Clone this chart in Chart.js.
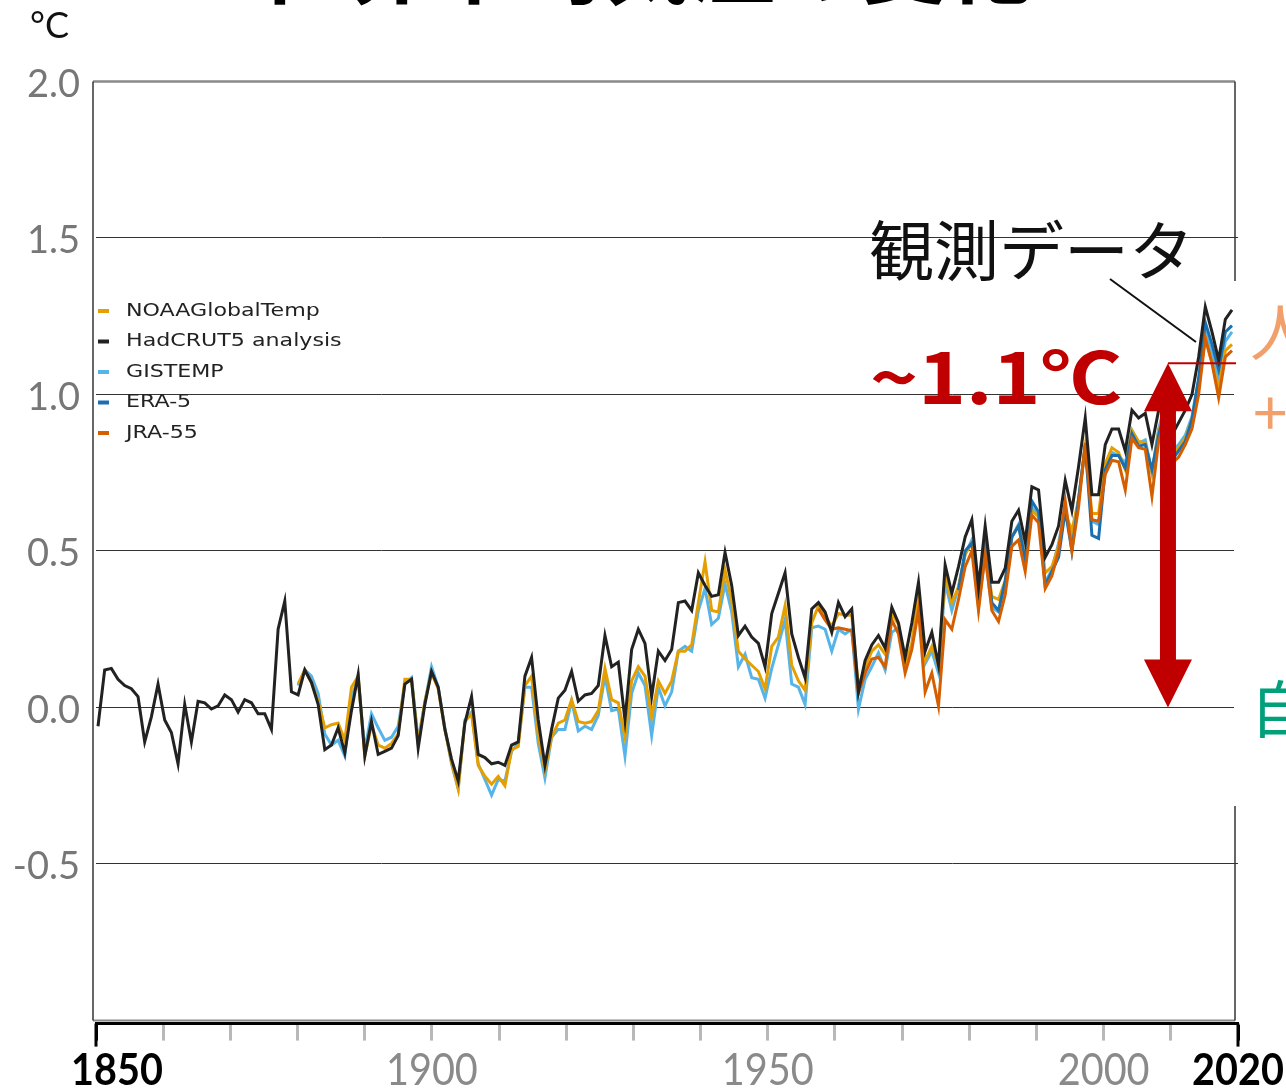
<!DOCTYPE html>
<html lang="ja">
<head>
<meta charset="utf-8">
<title>世界平均気温の変化</title>
<script src="https://cdn.jsdelivr.net/npm/chart.js@4.4.0/dist/chart.umd.min.js"></script>
<style>
  html, body { margin: 0; padding: 0; background: #fff; }
  canvas { display: block; }
</style>
</head>
<body>
<canvas id="chart" width="1286" height="1091"></canvas>
<script>
// annual global surface temperature, °C relative to 1850-1900
const hadcrutStart = 1850;
const hadcrut = [
  -0.06, 0.12, 0.125, 0.09, 0.07, 0.06, 0.035, -0.11, -0.03, 0.075,
  -0.04, -0.08, -0.18, 0.01, -0.11, 0.02, 0.015, -0.005, 0.005, 0.04,
  0.025, -0.015, 0.025, 0.015, -0.02, -0.02, -0.07, 0.25, 0.34, 0.05,
  0.04, 0.12, 0.08, 0.01, -0.135, -0.12, -0.065, -0.145, -0.01, 0.105,
  -0.155, -0.045, -0.15, -0.14, -0.13, -0.09, 0.075, 0.09, -0.13, 0.01,
  0.115, 0.065, -0.07, -0.165, -0.235, -0.05, 0.035, -0.15, -0.16, -0.18,
  -0.175, -0.185, -0.12, -0.11, 0.10, 0.16, -0.04, -0.185, -0.07, 0.03,
  0.055, 0.115, 0.02, 0.04, 0.045, 0.07, 0.23, 0.13, 0.145, -0.04,
  0.185, 0.25, 0.205, 0.035, 0.18, 0.15, 0.185, 0.335, 0.34, 0.31,
  0.43, 0.39, 0.355, 0.36, 0.495, 0.39, 0.23, 0.26, 0.225, 0.205,
  0.13, 0.30, 0.365, 0.43, 0.235, 0.16, 0.095, 0.315, 0.335, 0.305,
  0.24, 0.335, 0.29, 0.315, 0.05, 0.15, 0.20, 0.23, 0.19, 0.32,
  0.27, 0.16, 0.27, 0.40, 0.18, 0.24, 0.135, 0.455, 0.365, 0.45,
  0.545, 0.60, 0.385, 0.58, 0.40, 0.40, 0.445, 0.595, 0.63, 0.53,
  0.705, 0.695, 0.48, 0.52, 0.58, 0.725, 0.63, 0.77, 0.925, 0.68,
  0.68, 0.84, 0.89, 0.89, 0.82, 0.95, 0.925, 0.94, 0.84, 0.95,
  1.00, 0.87, 0.91, 0.95, 1.00, 1.12, 1.28, 1.20, 1.11, 1.24,
  1.27
];

const noaaStart = 1880;
const noaa = [
  0.075, 0.12, 0.08, 0.02, -0.065, -0.055, -0.05, -0.105, 0.065, 0.10,
  -0.155, -0.055, -0.12, -0.13, -0.115, -0.085, 0.09, 0.09, -0.115, 0.02,
  0.11, 0.06, -0.07, -0.175, -0.26, -0.045, -0.02, -0.185, -0.22, -0.245,
  -0.22, -0.25, -0.135, -0.125, 0.07, 0.10, -0.09, -0.20, -0.095, -0.05,
  -0.04, 0.025, -0.045, -0.05, -0.045, -0.01, 0.125, 0.025, 0.015, -0.095,
  0.085, 0.13, 0.10, -0.03, 0.085, 0.045, 0.085, 0.18, 0.18, 0.20,
  0.335, 0.465, 0.31, 0.305, 0.44, 0.34, 0.18, 0.155, 0.135, 0.115,
  0.06, 0.195, 0.225, 0.325, 0.135, 0.085, 0.055, 0.27, 0.325, 0.29,
  0.26, 0.30, 0.295, 0.295, 0.065, 0.13, 0.18, 0.20, 0.17, 0.30,
  0.265, 0.135, 0.205, 0.355, 0.15, 0.195, 0.135, 0.42, 0.335, 0.385,
  0.49, 0.525, 0.32, 0.505, 0.355, 0.345, 0.405, 0.545, 0.58, 0.48,
  0.63, 0.61, 0.43, 0.45, 0.515, 0.62, 0.565, 0.665, 0.835, 0.62,
  0.62, 0.78, 0.83, 0.815, 0.76, 0.885, 0.85, 0.845, 0.75, 0.88,
  0.95, 0.80, 0.83, 0.86, 0.92, 1.03, 1.18, 1.10, 1.02, 1.14,
  1.16
];

const gistempStart = 1880;
const gistemp = [
  0.07, 0.12, 0.10, 0.045, -0.085, -0.12, -0.105, -0.155, 0.035, 0.09,
  -0.135, -0.02, -0.065, -0.105, -0.095, -0.06, 0.075, 0.095, -0.105, 0.015,
  0.13, 0.065, -0.065, -0.18, -0.26, -0.04, -0.015, -0.18, -0.23, -0.28,
  -0.23, -0.235, -0.14, -0.115, 0.065, 0.065, -0.115, -0.225, -0.095, -0.07,
  -0.07, 0.02, -0.075, -0.06, -0.07, -0.025, 0.10, -0.01, -0.005, -0.155,
  0.045, 0.11, 0.07, -0.09, 0.065, 0.005, 0.05, 0.18, 0.195, 0.18,
  0.31, 0.38, 0.265, 0.285, 0.395, 0.305, 0.13, 0.17, 0.095, 0.09,
  0.03, 0.125, 0.20, 0.28, 0.075, 0.065, 0.01, 0.255, 0.26, 0.25,
  0.18, 0.25, 0.235, 0.25, -0.005, 0.09, 0.13, 0.175, 0.12, 0.24,
  0.255, 0.13, 0.195, 0.355, 0.14, 0.18, 0.11, 0.40, 0.31, 0.385,
  0.49, 0.535, 0.335, 0.48, 0.32, 0.305, 0.39, 0.545, 0.585, 0.49,
  0.64, 0.61, 0.40, 0.44, 0.525, 0.64, 0.53, 0.665, 0.825, 0.595,
  0.585, 0.77, 0.815, 0.805, 0.78, 0.885, 0.845, 0.855, 0.75, 0.89,
  0.97, 0.82, 0.84, 0.87, 0.93, 1.05, 1.20, 1.13, 1.05, 1.17,
  1.20
];

const era5Start = 1979;
const era5 = [
  0.375,
  0.50, 0.525, 0.355, 0.52, 0.335, 0.31, 0.405, 0.545, 0.58, 0.47,
  0.66, 0.625, 0.39, 0.435, 0.48, 0.63, 0.50, 0.665, 0.84, 0.55,
  0.54, 0.76, 0.805, 0.805, 0.765, 0.875, 0.835, 0.84, 0.76, 0.87,
  0.95, 0.79, 0.82, 0.85, 0.92, 1.05, 1.23, 1.16, 1.08, 1.20,
  1.22
];

const jra55Start = 1958;
const jra55 = [
  0.315, 0.28,
  0.25, 0.255, 0.25, 0.245, 0.045, 0.11, 0.155, 0.16, 0.13, 0.28,
  0.235, 0.11, 0.185, 0.31, 0.05, 0.11, 0.005, 0.28, 0.25, 0.345,
  0.45, 0.50, 0.31, 0.49, 0.31, 0.275, 0.36, 0.515, 0.535, 0.435,
  0.615, 0.59, 0.38, 0.42, 0.50, 0.66, 0.50, 0.64, 0.845, 0.60,
  0.595, 0.745, 0.79, 0.785, 0.695, 0.86, 0.83, 0.825, 0.675, 0.85,
  0.92, 0.78, 0.80, 0.84, 0.89, 1.00, 1.18, 1.10, 0.99, 1.12,
  1.14
];

const legendNames = ['NOAAGlobalTemp', 'HadCRUT5 analysis', 'GISTEMP', 'ERA-5', 'JRA-55'];
const legendColors = ['#E69F00', '#222222', '#56B4E9', '#1A6FAE', '#D55E00'];

const yTicks = [-1, -0.5, 0, 0.5, 1, 1.5, 2];
const tickYears = [1850, 1860, 1870, 1880, 1890, 1900, 1910, 1920, 1930,
  1940, 1950, 1960, 1970, 1980, 1990, 2000, 2010, 2020];
const labelYears = [1850, 1900, 1950, 2000, 2020];

// the annotated warming: from 0 up to ~1.1 °C
const arrowYear = 2010.4;
const arrowFrom = 0;
const arrowTo = 1.1;

function toPoints(start, values) {
  return values.map((v, i) => ({ x: start + i, y: v }));
}

function series(label, color, start, values) {
  return {
    label: label,
    data: toPoints(start, values),
    borderColor: color,
    backgroundColor: color,
    borderWidth: 3,
    pointRadius: 0,
    tension: 0,
    fill: false,
    xAxisID: 'x',
    yAxisID: 'y'
  };
}

function strokeLine(ctx, x1, y1, x2, y2) {
  ctx.beginPath();
  ctx.moveTo(x1, y1);
  ctx.lineTo(x2, y2);
  ctx.stroke();
}

function text(ctx, str, x, y, font, color, opts) {
  opts = opts || {};
  ctx.save();
  ctx.font = font;
  ctx.fillStyle = color;
  ctx.textBaseline = opts.baseline || 'alphabetic';
  ctx.textAlign = 'left';
  const w = ctx.measureText(str).width;
  let sx = opts.scaleX || 1;
  if (opts.width) sx = opts.width / w;
  let left = x;
  if (opts.align === 'center') left = x - w * sx / 2;
  ctx.translate(left, y);
  ctx.scale(sx, 1);
  ctx.fillText(str, 0, 0);
  ctx.restore();
}

const decorations = {
  id: 'decorations',
  beforeDraw(chart) {
    const ctx = chart.ctx;
    ctx.save();
    ctx.fillStyle = '#fff';
    ctx.fillRect(0, 0, chart.width, chart.height);
    ctx.restore();
  },
  afterDraw(chart) {
    const ctx = chart.ctx;
    const x = chart.scales.x;
    const y = chart.scales.y;
    const xt = chart.scales.xt;
    const top = y.getPixelForValue(2);
    const bottom = y.getPixelForValue(-1);
    const left = 93, right = 1235;

    ctx.save();
    // plot frame
    ctx.strokeStyle = '#8a8a8a';
    ctx.lineWidth = 2.5;
    strokeLine(ctx, left, top, right, top);
    ctx.lineWidth = 2;
    strokeLine(ctx, left, bottom, right, bottom);
    ctx.strokeStyle = '#333';
    ctx.lineWidth = 1.5;
    strokeLine(ctx, left, top, left, bottom);
    strokeLine(ctx, right, top, right, bottom);

    // longer black end ticks of the year axis
    ctx.strokeStyle = '#000';
    ctx.lineWidth = 3;
    [1850, 2020].forEach(yr => {
      const px = xt.getPixelForValue(yr);
      strokeLine(ctx, px, xt.top, px, xt.top + 23);
    });

    // white strip on the right where the side labels sit
    ctx.fillStyle = '#fff';
    ctx.fillRect(1234, 281, 60, 525);

    // legend
    legendNames.forEach((name, i) => {
      const ly = 311 + i * 30.5;
      ctx.strokeStyle = legendColors[i];
      ctx.lineWidth = 4;
      strokeLine(ctx, 98, ly, 109, ly);
      text(ctx, name, 126, ly, '18px "DejaVu Sans"', '#222', { baseline: 'middle', scaleX: 1.23 });
    });

    // red double arrow 0 -> 1.1
    const ax = x.getPixelForValue(arrowYear);
    const yTop = y.getPixelForValue(arrowTo);
    const yBot = y.getPixelForValue(arrowFrom);
    const hw = 24, hh = 48, sw = 8;
    ctx.fillStyle = '#C00000';
    ctx.beginPath();
    ctx.moveTo(ax, yTop);
    ctx.lineTo(ax + hw, yTop + hh);
    ctx.lineTo(ax + sw, yTop + hh);
    ctx.lineTo(ax + sw, yBot - hh);
    ctx.lineTo(ax + hw, yBot - hh);
    ctx.lineTo(ax, yBot);
    ctx.lineTo(ax - hw, yBot - hh);
    ctx.lineTo(ax - sw, yBot - hh);
    ctx.lineTo(ax - sw, yTop + hh);
    ctx.lineTo(ax - hw, yTop + hh);
    ctx.closePath();
    ctx.fill();
    ctx.strokeStyle = '#C00000';
    ctx.lineWidth = 2;
    strokeLine(ctx, ax, yTop, right + 1, yTop);

    // callouts
    ctx.strokeStyle = '#111';
    ctx.lineWidth = 2;
    strokeLine(ctx, 1110, 279, 1196, 342);
    text(ctx, '観測データ', 869, 275, '65px "Noto Sans CJK JP"', '#111');
    text(ctx, '~1.1℃', 870, 404, 'bold 70px "Noto Sans CJK JP"', '#C00000', { width: 252 });

    // side labels, cut by the page edge
    text(ctx, '人為起源', 1250, 356, '62px "Noto Sans CJK JP"', '#F2A06B');
    text(ctx, '+1.07℃', 1253, 436, '62px "Noto Sans CJK JP"', '#F2A06B');
    text(ctx, '自然起源', 1250, 733, '62px "Noto Sans CJK JP"', '#00A07A');

    // year labels
    labelYears.forEach(yr => {
      const end = yr === 1850 || yr === 2020;
      const px = xt.getPixelForValue(yr) + (yr === 1850 ? 21 : 0);
      text(ctx, String(yr), px, 1085, (end ? 'bold ' : '') + '44px Lato',
        end ? '#000' : '#8a8a8a', { align: 'center', scaleX: 0.9 });
    });

    // unit and title (title is cut off at the top edge)
    text(ctx, '°C', 30, 38, '36px Lato', '#111');
    text(ctx, '世界平均気温の変化', 646, -3, 'bold 86px "Noto Sans CJK JP"', '#000', { align: 'center' });
    ctx.restore();
  }
};

new Chart(document.getElementById('chart'), {
  type: 'line',
  data: {
    datasets: [
      series('HadCRUT5 analysis', '#222222', hadcrutStart, hadcrut),
      series('JRA-55', '#D55E00', jra55Start, jra55),
      series('ERA-5', '#1A6FAE', era5Start, era5),
      series('NOAAGlobalTemp', '#E69F00', noaaStart, noaa),
      series('GISTEMP', '#56B4E9', gistempStart, gistemp)
    ]
  },
  options: {
    responsive: false,
    animation: false,
    devicePixelRatio: 1,
    layout: { padding: { left: 0, top: 81.5, right: 48, bottom: 0 } },
    plugins: {
      legend: { display: false },
      tooltip: { enabled: false }
    },
    scales: {
      x: {
        type: 'linear',
        display: false,
        min: 1849.7,
        max: 2020.9
      },
      xt: {
        type: 'linear',
        position: 'bottom',
        min: 1850,
        max: 2020,
        afterBuildTicks: scale => { scale.ticks = tickYears.map(v => ({ value: v })); },
        afterFit: scale => { scale.height = 67.4; },
        grid: {
          drawOnChartArea: false,
          drawTicks: true,
          tickLength: 17,
          tickWidth: 3,
          tickColor: ctx => (ctx.tick && (ctx.tick.value === 1850 || ctx.tick.value === 2020)) ? '#000' : '#b8b8b8'
        },
        border: { display: true, color: '#000', width: 3 },
        ticks: { display: false }
      },
      y: {
        type: 'linear',
        min: -1.01,
        max: 2,
        afterBuildTicks: scale => { scale.ticks = yTicks.map(v => ({ value: v })); },
        afterFit: scale => { scale.width = 96; },
        border: { display: false },
        grid: {
          drawTicks: false,
          color: ctx => (ctx.tick && (ctx.tick.value === 2 || ctx.tick.value === -1)) ? 'rgba(0,0,0,0)' : '#333',
          lineWidth: 1
        },
        ticks: {
          padding: 16,
          labelOffset: 3,
          color: '#777',
          font: { family: 'Lato', size: 38 },
          callback: v => v === -1 ? '' : Number(v).toFixed(1)
        }
      }
    }
  },
  plugins: [decorations]
});
</script>
</body>
</html>
